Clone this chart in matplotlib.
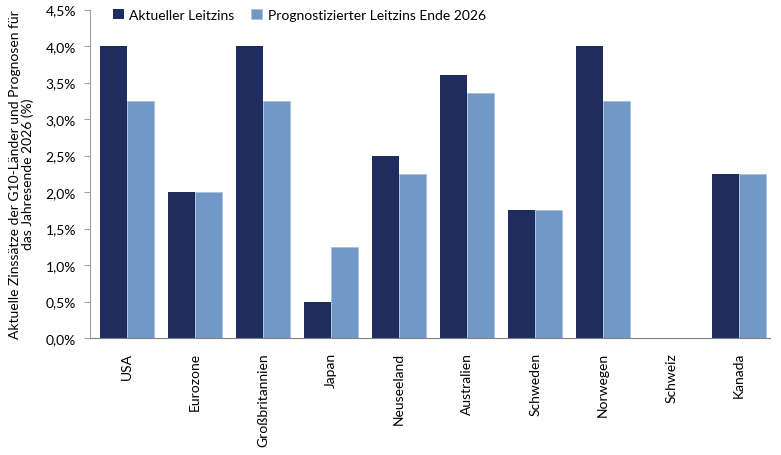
import matplotlib
matplotlib.use("Agg")
import matplotlib.pyplot as plt
import numpy as np

categories = ["USA", "Eurozone", "Großbritannien", "Japan", "Neuseeland",
              "Australien", "Schweden", "Norwegen", "Schweiz", "Kanada"]
current = [4.0, 2.0, 4.0, 0.5, 2.5, 3.6, 1.75, 4.0, 0.0, 2.25]
forecast = [3.25, 2.0, 3.25, 1.25, 2.25, 3.35, 1.75, 3.25, 0.0, 2.25]
series_names = ["Aktueller Leitzins", "Prognostizierter Leitzins Ende 2026"]
yticks = [0, 0.5, 1.0, 1.5, 2.0, 2.5, 3.0, 3.5, 4.0, 4.5]
ylabel = "Aktuelle Zinssätze der G10-Länder und Prognosen für\ndas Jahresende 2026 (%)"

plt.rcParams['font.family'] = ['Lato', 'DejaVu Sans']

fig = plt.figure(figsize=(7.81, 4.56), dpi=100)
ax = fig.add_axes([90/781, 1 - 339/456, 680/781, (339 - 10.5)/456])

x = np.arange(len(categories))
w = 27/68
dark = "#1f2d5e"
light = "#7299c6"
ax.bar(x - w/2, current, width=w, color=dark, label=series_names[0])
ax.bar(x + w/2, forecast, width=w, color=light, label=series_names[1],
       edgecolor="#a9c1df", linewidth=0.6)

ax.set_xlim(-0.545, 9.455)
ax.set_ylim(0, 4.5)
ax.set_yticks(yticks)
ax.set_yticklabels([f"{v:.1f}%".replace(".", ",") for v in yticks], fontsize=10)
ax.set_xticks(x)
ax.set_xticklabels(categories, rotation=90, fontsize=10)
ax.tick_params(axis='x', length=0, pad=10)
ax.tick_params(axis='y', length=4, color="#a0a0a0", pad=6)
for s in ["top", "right"]:
    ax.spines[s].set_visible(False)
ax.spines["left"].set_color("#a0a0a0")
ax.spines["bottom"].set_color("#808080")
ax.set_ylabel(ylabel, fontsize=10, labelpad=8, linespacing=1.1)

ax.legend(loc="upper left", bbox_to_anchor=(0.015, 1.04), ncol=2, frameon=False,
          fontsize=10, handlelength=0.8, handleheight=0.8, handletextpad=0.4,
          columnspacing=1.2)

fig.savefig("out.png", dpi=100)
